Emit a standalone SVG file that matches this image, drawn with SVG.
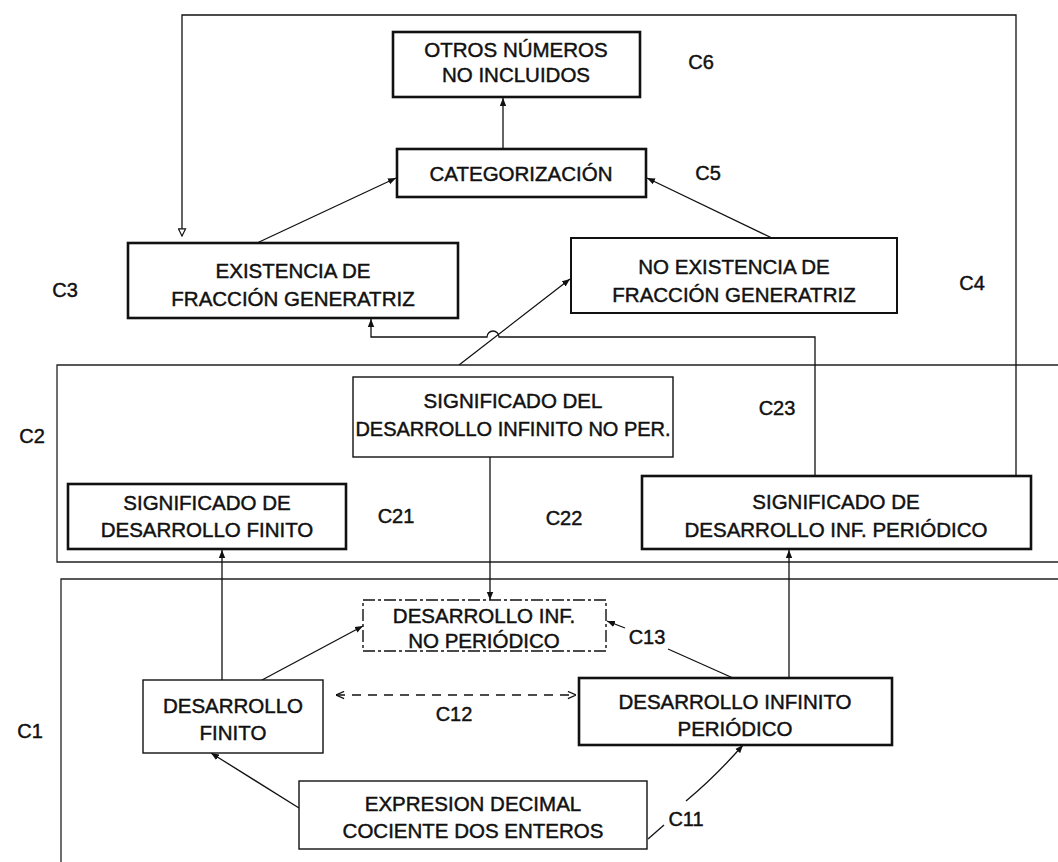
<svg xmlns="http://www.w3.org/2000/svg" width="1058" height="862" viewBox="0 0 1058 862">
  <style>
    .box { fill: #fff; stroke: #111; stroke-width: 1.4; }
    .thick { stroke-width: 2.6; }
    .dash { stroke-dasharray: 12 3 3 3; }
    .t { font-family: "Liberation Sans", Arial, sans-serif; font-size: 20.5px; text-anchor: middle; fill: #111; stroke: #111; stroke-width: 0.45; }
    .lbl { font-family: "Liberation Sans", Arial, sans-serif; font-size: 20px; text-anchor: middle; fill: #111; stroke: #111; stroke-width: 0.45; }
    .ln { fill: none; stroke: #111; stroke-width: 1.3; }
    .frame { fill: none; stroke: #222; stroke-width: 1.3; }
  </style>
  <defs>
    <marker id="ah" viewBox="0 0 10 10" refX="10" refY="5" markerWidth="8" markerHeight="8" markerUnits="userSpaceOnUse" orient="auto">
      <path d="M0,1 L10,5 L0,9 z" fill="#111"/>
    </marker>
    <marker id="tri" viewBox="0 0 10 10" refX="9" refY="5" markerWidth="9" markerHeight="9" markerUnits="userSpaceOnUse" orient="auto">
      <path d="M1,1 L9,5 L1,9 z" fill="#fff" stroke="#111" stroke-width="1.3"/>
    </marker>
    <marker id="vee" viewBox="0 0 10 10" refX="10" refY="5" markerWidth="9" markerHeight="9" markerUnits="userSpaceOnUse" orient="auto-start-reverse">
      <path d="M1,1 L10,5 L1,9" fill="none" stroke="#111" stroke-width="1.4"/>
    </marker>
  </defs>

  <rect width="1058" height="862" fill="#fff"/>

  <!-- level frames -->
  <g id="frames">
    <path class="frame" d="M1058,365 H57 V562 H1058"/>
    <path class="frame" d="M1058,579 H61 V862"/>
  </g>

  <!-- connectors -->
  <g id="connectors">
    <!-- categorization to others -->
    <line class="ln" x1="503" y1="149" x2="503" y2="98" marker-end="url(#ah)"/>
    <!-- generating fraction boxes to categorization -->
    <line class="ln" x1="257" y1="243" x2="396" y2="178" marker-end="url(#ah)"/>
    <line class="ln" x1="772" y1="238" x2="647" y2="178" marker-end="url(#ah)"/>
    <!-- outer return loop -->
    <path class="ln" d="M1016,476 V15 H182 V236" marker-end="url(#tri)"/>
    <!-- periodic meaning to existence, hopping over the diagonal -->
    <path class="ln" d="M815,476 V337 H499 A6,6 0 0 0 487,337 H371 V319" marker-end="url(#ah)"/>
    <!-- non-periodic meaning to non-existence -->
    <line class="ln" x1="459" y1="365" x2="570" y2="279" marker-end="url(#ah)"/>
    <!-- non-periodic vertical link -->
    <line class="ln" x1="490" y1="457" x2="490" y2="600" marker-end="url(#ah)"/>
    <!-- finite to its meaning -->
    <line class="ln" x1="222" y1="680" x2="222" y2="550" marker-end="url(#ah)"/>
    <!-- infinite periodic to its meaning -->
    <line class="ln" x1="789" y1="678" x2="789" y2="550" marker-end="url(#ah)"/>
    <!-- finite to non-periodic -->
    <line class="ln" x1="262" y1="680" x2="363" y2="626" marker-end="url(#ah)"/>
    <!-- C12 double dashed arrow -->
    <line class="ln" x1="336" y1="695" x2="576" y2="695" stroke-dasharray="9 7" marker-start="url(#vee)" marker-end="url(#vee)"/>
    <!-- C13 -->
    <line class="ln" x1="733" y1="678" x2="668" y2="649"/>
    <line class="ln" x1="625" y1="628" x2="607" y2="621" marker-end="url(#ah)"/>
    <!-- decimal expression to finite -->
    <line class="ln" x1="299" y1="808" x2="211" y2="753" marker-end="url(#ah)"/>
    <!-- C11 -->
    <line class="ln" x1="648" y1="839" x2="664" y2="825"/>
    <path class="ln" d="M686,801 Q716,776 743,745" marker-end="url(#ah)"/>
  </g>

  <g id="n-otros">
    <rect class="box thick" x="393" y="32" width="247" height="65"/>
    <text class="t" x="516" y="57">OTROS NÚMEROS</text>
    <text class="t" x="516" y="82">NO INCLUIDOS</text>
  </g>

  <g id="n-categorizacion">
    <rect class="box thick" x="397" y="149" width="249" height="48"/>
    <text class="t" x="521" y="181">CATEGORIZACIÓN</text>
  </g>

  <g id="n-existencia">
    <rect class="box thick" x="128" y="243" width="330" height="75"/>
    <text class="t" x="293" y="278">EXISTENCIA DE</text>
    <text class="t" x="293" y="306">FRACCIÓN GENERATRIZ</text>
  </g>

  <g id="n-no-existencia">
    <rect class="box" style="stroke-width:2" x="571" y="238" width="326" height="75"/>
    <text class="t" x="734" y="274">NO EXISTENCIA DE</text>
    <text class="t" x="734" y="302">FRACCIÓN GENERATRIZ</text>
  </g>

  <g id="n-sig-no-per">
    <rect class="box" x="353" y="377" width="320" height="80"/>
    <text class="t" x="513" y="408">SIGNIFICADO DEL</text>
    <text class="t" x="513" y="436" style="font-size:20px">DESARROLLO INFINITO NO PER.</text>
  </g>

  <g id="n-sig-finito">
    <rect class="box thick" x="68" y="484" width="278" height="65"/>
    <text class="t" x="207" y="510">SIGNIFICADO DE</text>
    <text class="t" x="207" y="537">DESARROLLO FINITO</text>
  </g>

  <g id="n-sig-periodico">
    <rect class="box thick" x="642" y="476" width="389" height="73"/>
    <text class="t" x="836" y="509">SIGNIFICADO DE</text>
    <text class="t" x="836" y="537">DESARROLLO INF. PERIÓDICO</text>
  </g>

  <g id="n-no-periodico">
    <rect class="box dash" x="363" y="600" width="243" height="51"/>
    <text class="t" x="484" y="623">DESARROLLO INF.</text>
    <text class="t" x="484" y="648">NO PERIÓDICO</text>
  </g>

  <g id="n-finito">
    <rect class="box" x="143" y="680" width="180" height="73"/>
    <text class="t" x="233" y="713">DESARROLLO</text>
    <text class="t" x="233" y="740">FINITO</text>
  </g>

  <g id="n-periodico">
    <rect class="box thick" x="579" y="678" width="313" height="67"/>
    <text class="t" x="735" y="709">DESARROLLO INFINITO</text>
    <text class="t" x="735" y="736">PERIÓDICO</text>
  </g>

  <g id="n-expresion">
    <rect class="box" x="299" y="781" width="348" height="68"/>
    <text class="t" x="473" y="811">EXPRESION DECIMAL</text>
    <text class="t" x="473" y="838">COCIENTE DOS ENTEROS</text>
  </g>

  <!-- level labels -->
  <g id="labels">
    <text class="lbl" x="701" y="69">C6</text>
    <text class="lbl" x="708" y="180">C5</text>
    <text class="lbl" x="65" y="297">C3</text>
    <text class="lbl" x="972" y="290">C4</text>
    <text class="lbl" x="32" y="443">C2</text>
    <text class="lbl" x="777" y="415">C23</text>
    <text class="lbl" x="396" y="523">C21</text>
    <text class="lbl" x="564" y="525">C22</text>
    <text class="lbl" x="30" y="738">C1</text>
    <text class="lbl" x="454" y="721">C12</text>
    <text class="lbl" x="647" y="644">C13</text>
    <text class="lbl" x="686" y="826">C11</text>
  </g>
</svg>
